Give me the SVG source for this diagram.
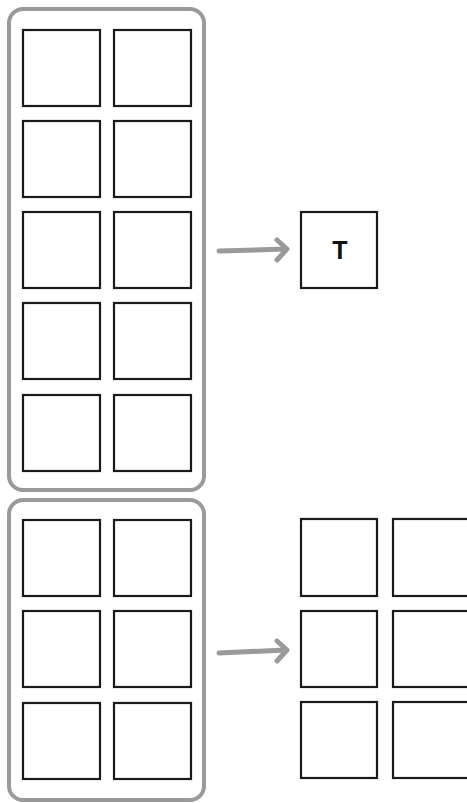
<svg xmlns="http://www.w3.org/2000/svg" width="467" height="803" viewBox="0 0 467 803">
<style>
.cont{fill:none;stroke:#9a9a9a;stroke-width:4}
.sq{fill:#fff;stroke:#1a1a1a;stroke-width:2.2}
.conn{fill:none;stroke:#9a9a9a;stroke-width:5;stroke-linecap:round;stroke-linejoin:round}
.lbl{font-family:"Liberation Sans",Arial,sans-serif;font-size:25px;font-weight:bold;fill:#111;text-anchor:middle}
</style>
<rect width="467" height="803" fill="#fff"/>
<g id="group-top">
<rect class="cont" x="9" y="9" width="195" height="481" rx="14"/>
<rect class="sq" x="23" y="30" width="77" height="76"/>
<rect class="sq" x="114" y="30" width="77" height="76"/>
<rect class="sq" x="23" y="121" width="77" height="76"/>
<rect class="sq" x="114" y="121" width="77" height="76"/>
<rect class="sq" x="23" y="212" width="77" height="76"/>
<rect class="sq" x="114" y="212" width="77" height="76"/>
<rect class="sq" x="23" y="303" width="77" height="76"/>
<rect class="sq" x="114" y="303" width="77" height="76"/>
<rect class="sq" x="23" y="395" width="77" height="76"/>
<rect class="sq" x="114" y="395" width="77" height="76"/>
</g>
<g id="node-T">
<rect class="sq" x="301" y="212" width="76" height="76"/>
<text class="lbl" x="340" y="259">T</text>
</g>
<g id="group-bottom">
<rect class="cont" x="9" y="500" width="195" height="300" rx="14"/>
<rect class="sq" x="23" y="520" width="77" height="76"/>
<rect class="sq" x="114" y="520" width="77" height="76"/>
<rect class="sq" x="23" y="611" width="77" height="76"/>
<rect class="sq" x="114" y="611" width="77" height="76"/>
<rect class="sq" x="23" y="703" width="77" height="76"/>
<rect class="sq" x="114" y="703" width="77" height="76"/>
</g>
<g id="grid-right">
<rect class="sq" x="301" y="519" width="76" height="77"/>
<rect class="sq" x="393" y="519" width="76" height="77"/>
<rect class="sq" x="301" y="611" width="76" height="76"/>
<rect class="sq" x="393" y="611" width="76" height="76"/>
<rect class="sq" x="301" y="702" width="76" height="76"/>
<rect class="sq" x="393" y="702" width="76" height="76"/>
</g>
<g id="connectors">
<path class="conn" d="M219 251 L286 249 M277 240 L287 249 L277 260"/>
<path class="conn" d="M219 653 L286 650 M277 641 L287 650 L277 661"/>
</g>
</svg>
